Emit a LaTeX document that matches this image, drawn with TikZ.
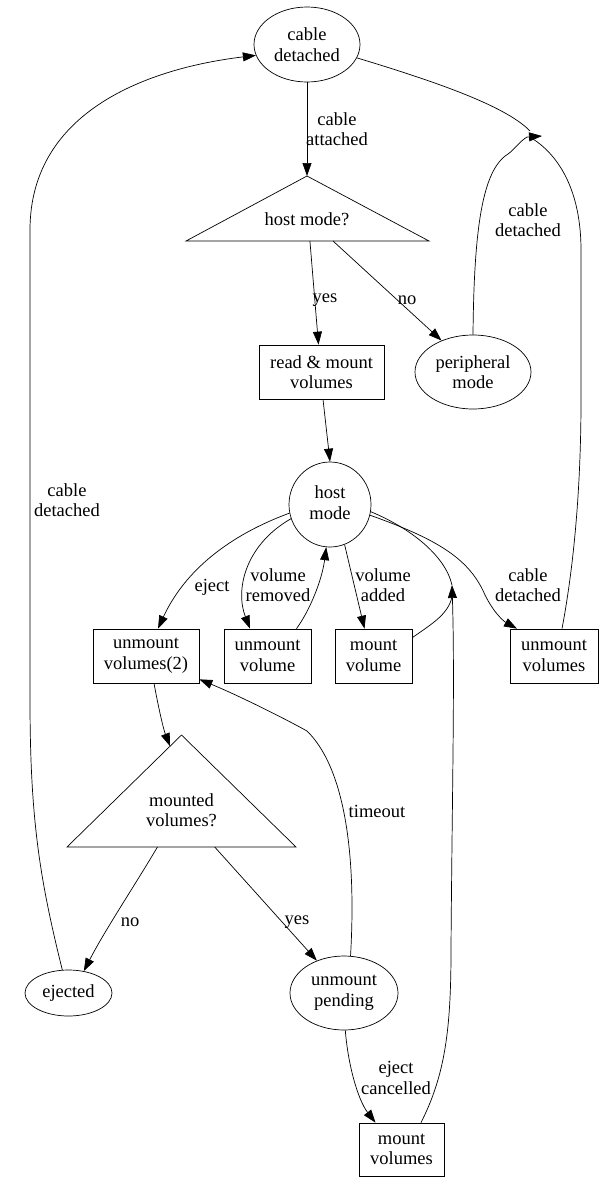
\documentclass[tikz,border=0pt]{standalone}
\usepackage{fontspec}
\setmainfont{Liberation Serif}
\usetikzlibrary{shapes.geometric,arrows.meta,calc}
\tikzset{
  state/.style={ellipse, draw, inner sep=0pt, align=center},
  box/.style={rectangle, draw, inner sep=0pt, align=center},
  lbl/.style={inner sep=0pt, align=center},
  arr/.style={-{Triangle[length=13pt,width=9pt]}},
}
\begin{document}
\begin{tikzpicture}[x=1pt, y=-1pt, line width=0.7pt,
  font=\fontsize{18.5}{20.5}\selectfont]
\useasboundingbox (0,0) rectangle (605,1181);

\node[state, minimum width=106, minimum height=75] (cabdet) at (307,44.5) {cable\\detached};
\node[lbl] (hostq) at (307,219) {host mode?};
\coordinate (hostq-top) at (307,176);
\coordinate (hostq-l) at (186,241);
\coordinate (hostq-r) at (429,241);
\draw (hostq-top) -- (hostq-r) -- (hostq-l) -- cycle;
\node[box, minimum width=125, minimum height=54] (readmnt) at (321.5,372) {read \& mount\\volumes};
\node[state, minimum width=116, minimum height=74] (periph) at (473,372) {peripheral\\mode};
\node[state, minimum width=82, minimum height=85] (hostmode) at (330,504.5) {host\\mode\vphantom{g}};
\node[box, minimum width=106, minimum height=54] (unmt2) at (146,656) {unmount\\volumes(2)};
\node[box, minimum width=87, minimum height=54] (unmtv) at (267.5,656) {unmount\\volume};
\node[box, minimum width=77, minimum height=54] (mntv) at (373.5,656) {mount\\volume};
\node[box, minimum width=88, minimum height=54] (unmtall) at (554,656) {unmount\\volumes};
\node[lbl] (mntq) at (181.5,810) {mounted\\volumes?};
\coordinate (mntq-top) at (181.5,735);
\coordinate (mntq-l) at (67,847);
\coordinate (mntq-r) at (296,847);
\draw (mntq-top) -- (mntq-r) -- (mntq-l) -- cycle;
\node[state, minimum width=87, minimum height=46] (ejected) at (68.5,993) {ejected};
\node[state, minimum width=108, minimum height=74] (pending) at (344,993) {unmount\\pending};
\node[box, minimum width=85, minimum height=53] (mntall) at (401.5,1149.5) {mount\\volumes};

\coordinate (mrgA) at (542,136);
\coordinate (mrgB) at (452,585);

\draw[arr] (cabdet.south) -- (hostq-top);
\draw[arr] ($(hostq-l)!0.51!(hostq-r)$) -- ($(readmnt.north)+(-3,0)$);
\draw[arr] ($(hostq-l)!0.605!(hostq-r)$) -- (periph.135);
\draw[arr] ($(readmnt.south)+(1.5,0)$) -- (hostmode.north);
\draw (cabdet.345) .. controls (430,80) and (505,105) .. ($(mrgA)+(-12,-5)$);
\draw[arr] (periph.north) .. controls (474,230) and (482,170) .. (508,154)
  .. controls (514,150) and (520,141) .. (527,137) -- (mrgA);
\draw ($(unmtall.north)+(8,0)$) .. controls (575,560) and (581,480) .. (581,400)
  -- (581,250) .. controls (581,200) and (565,160) .. ($(mrgA)+(-9,3)$);
\draw[arr] (ejected.105) .. controls (40,880) and (30,820) .. (30,700)
  -- (30,230) .. controls (30,110) and (150,68) .. (cabdet.192);
\draw[arr] (hostmode.192) .. controls (230,535) and (185,570) .. ($(unmt2.north)+(12,0)$);
\draw[arr] (hostmode.200) .. controls (245,545) and (235,590) .. ($(unmtv.north)+(-17.5,0)$);
\draw[arr] ($(unmtv.north)+(29,0)$) .. controls (310,610) and (322,580) .. (hostmode.265);
\draw[arr] (hostmode.290) -- ($(mntv.north)+(-9,0)$);
\draw ($(mntv.north east)+(0,9)$) .. controls (430,625) and (448,615) .. ($(mrgB)+(0,12)$);
\draw (hostmode.350) .. controls (410,528) and (445,555) .. (mrgB);
\draw[arr] (hostmode.345) .. controls (440,540) and (470,560) .. (485,595)
  .. controls (495,615) and (505,622) .. ($(unmtall.north)+(-37,0)$);
\draw[arr] ($(unmt2.south)+(8,0)$) .. controls (158,705) and (163,728) .. ($(mntq-top)!0.1!(mntq-l)$);
\draw[arr] ($(mntq-l)!0.395!(mntq-r)$) .. controls (135,885) and (105,930) .. (ejected.55);
\draw[arr] ($(mntq-l)!0.645!(mntq-r)$) -- (pending.130);
\draw[arr] (pending.80) .. controls (357,845) and (342,765) .. (307,731)
  .. controls (280,716) and (235,694) .. ($(unmt2.south east)+(0,-4)$);
\draw[arr] (pending.272) .. controls (348,1065) and (358,1100) .. ($(mntall.north)+(-26,0)$);
\draw[arr] ($(mntall.north)+(19.5,0)$) .. controls (445,1075) and (451,1030) .. (451,950)
  .. controls (452,800) and (455,680) .. (mrgB);

\node[lbl] (l-attach) at (337,129) {cable\\attached};
\node[lbl] (l-yes1) at (325,300) {yes};
\node[lbl] (l-no1) at (407,300) {no};
\node[lbl] (l-cabdet1) at (528,220) {cable\\detached};
\node[lbl] (l-cabdet3) at (67,500) {cable\\detached};
\node[lbl] (l-eject) at (212,587) {eject};
\node[lbl] (l-removed) at (278,585) {volume\\removed};
\node[lbl] (l-added) at (383,585) {volume\\added};
\node[lbl] (l-cabdet2) at (528,585) {cable\\detached};
\node[lbl] (l-no2) at (130,922) {no};
\node[lbl] (l-yes2) at (297,922) {yes};
\node[lbl] (l-timeout) at (377,811) {timeout};
\node[lbl] (l-cancel) at (396,1078) {eject\\cancelled};
\end{tikzpicture}
\end{document}
